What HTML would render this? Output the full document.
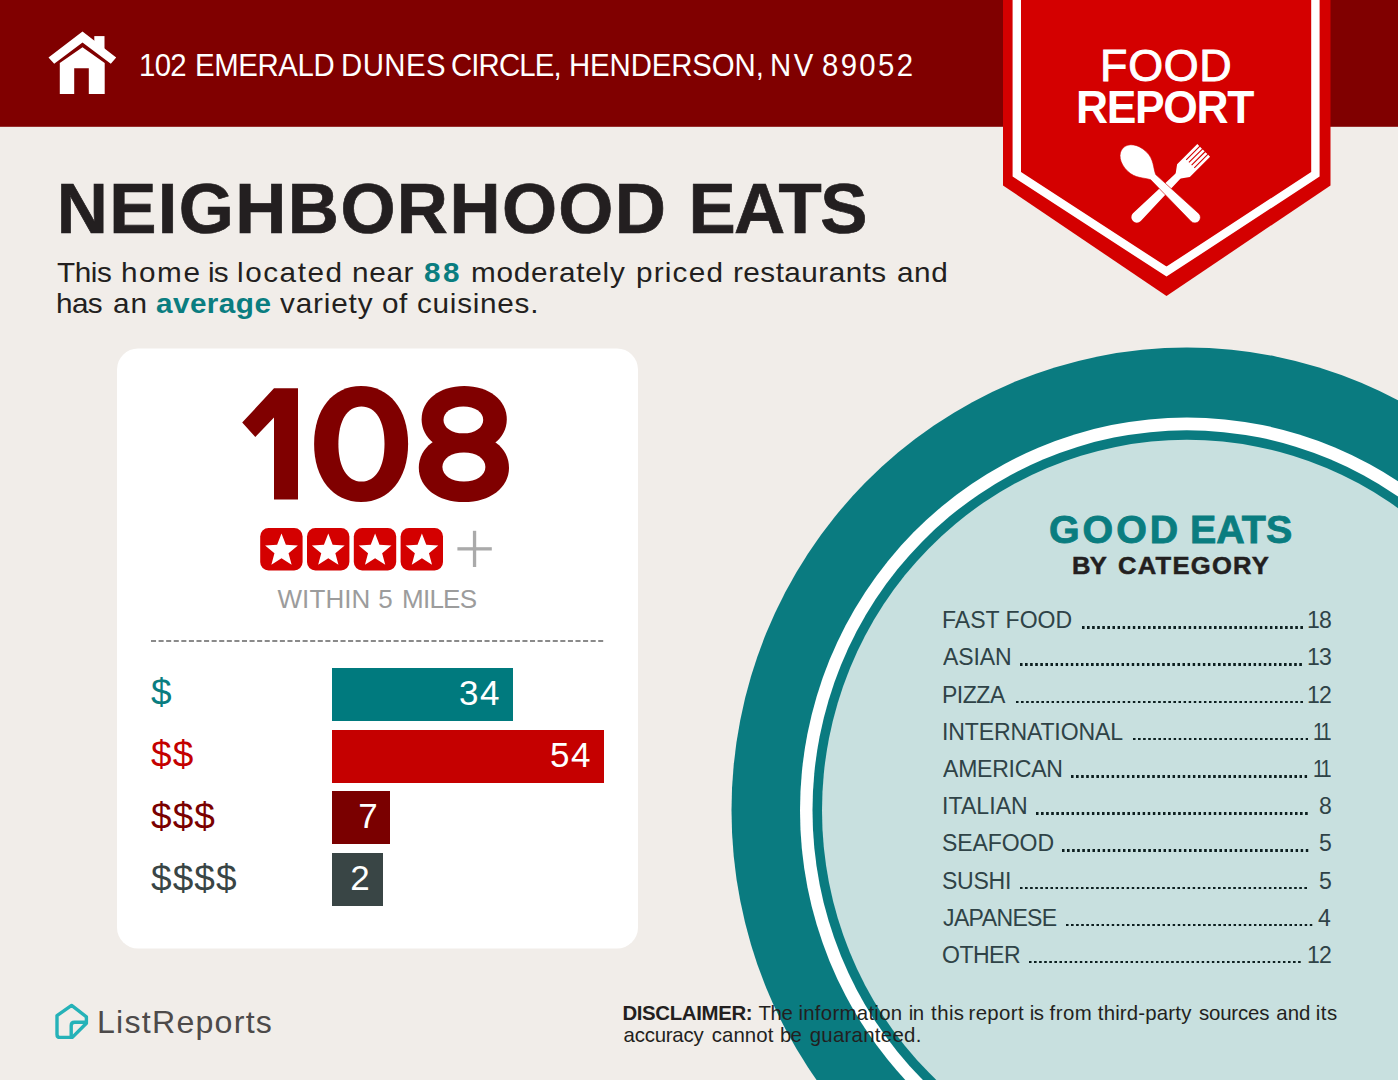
<!DOCTYPE html>
<html>
<head>
<meta charset="utf-8">
<title>Food Report</title>
<style>
html,body{margin:0;padding:0;}
body{width:1398px;height:1080px;position:relative;overflow:hidden;background:#f1ede9;font-family:"Liberation Sans",sans-serif;color:#231f20;}
.abs{position:absolute;white-space:nowrap;line-height:1;transform-origin:0 0;}
#shapes{position:absolute;left:0;top:0;}
.hl{color:#0a7d80;font-weight:bold;}
.b{font-weight:bold;}
.words span{position:absolute;top:0;transform-origin:0 0;white-space:nowrap;}
#big{left:117px;width:521px;top:376px;font-size:150px;font-weight:bold;color:transparent;text-align:center;}
.dol{left:151px;font-size:37px;letter-spacing:1.1px;}
.bar{position:absolute;left:332px;height:53px;color:#fff;font-size:35px;line-height:49px;text-align:right;box-sizing:border-box;padding-right:11.5px;letter-spacing:1.5px;}
.row{position:absolute;left:0;width:1398px;height:24px;font-size:23.5px;line-height:1;color:#2f4347;white-space:nowrap;}
.row .lab,.row .num{position:absolute;top:0;transform-origin:0 0;transform:scaleX(0.98);}
.row .dots{position:absolute;height:2.6px;background-image:linear-gradient(to right,#0c1e1f 0,#0c1e1f 2.6px,transparent 2.6px,transparent 5.09px);background-size:5.09px 2.6px;background-repeat:repeat-x;}
#food{left:1099.6px;top:43.9px;font-size:44px;color:#fff;letter-spacing:0.7px;transform:scaleX(1.02);-webkit-text-stroke:0.9px #fff;}
/*W*/
#addr{left:0;top:49.56px;font-size:30.6px;color:#fff;}
#addr span{transform:scaleX(0.96);}
#title{left:0;top:173.6px;font-size:70.8px;font-weight:bold;color:#231f20;-webkit-text-stroke:0.7px #231f20;}
#title span{transform:scaleX(1.0);}
#sub1{left:0;top:257.9px;font-size:28.3px;color:#231f20;}
#sub1 span{transform:scaleX(1.05);}
#sub2{left:0;top:289.0px;font-size:28.3px;color:#231f20;}
#sub2 span{transform:scaleX(1.05);}
#disc1{left:0;top:1003.4px;font-size:20.4px;color:#231f20;}
#disc1 span{transform:scaleX(1.0);}
#disc2{left:0;top:1025.2px;font-size:20.4px;color:#231f20;}
#disc2 span{transform:scaleX(1.0);}
#within{left:0;top:585.6px;font-size:26px;color:#9c9c9c;}
#within span{transform:scaleX(1.0);}
#ge{left:0;top:511.9px;font-size:37.9px;font-weight:bold;color:#0a7d80;-webkit-text-stroke:0.8px #0a7d80;}
#ge span{transform:scaleX(1.04);}
#bc{left:0;top:553.6px;font-size:24.6px;font-weight:bold;color:#231f20;-webkit-text-stroke:0.5px #231f20;}
#bc span{transform:scaleX(1.04);}
#report{left:0;top:84.8px;font-size:45.8px;font-weight:bold;color:#fff;}
#report span{transform:scaleX(0.97);}
#lr{left:0;top:1006.5px;font-size:31.2px;color:#4d4a4a;}
#lr span{transform:scaleX(1.03);}
/*EW*/
</style>
</head>
<body>
<svg id="shapes" width="1398" height="1080" viewBox="0 0 1398 1080">
  <!-- header -->
  <rect x="0" y="0" width="1398" height="126.8" fill="#800000"/>
  <!-- circle -->
  <ellipse cx="1186.9" cy="810.5" rx="455.4" ry="463" fill="#0a7b80"/>
  <ellipse cx="1186.9" cy="810.5" rx="386.9" ry="393.0" fill="#ffffff"/>
  <ellipse cx="1186.9" cy="810.5" rx="374.4" ry="380.2" fill="#0a7b80"/>
  <ellipse cx="1186.9" cy="810.5" rx="364.9" ry="370.7" fill="#c8e0df"/>
  <!-- banner -->
  <polygon points="1003,0 1003,185.4 1166.5,296 1330.5,185.4 1330.5,0" fill="#d40000"/>
  <polyline points="1016.8,-5 1016.8,174.2 1166.5,271.6 1315.4,174.2 1315.4,-5" fill="none" stroke="#ffffff" stroke-width="8.4"/>
  <!-- house icon -->
  <g fill="#ffffff">
    <polygon points="82.5,31.6 48.5,57.6 54.2,63.8 82.5,42.4 110.8,63.8 116.2,57.6"/>
    <rect x="94.3" y="36.1" width="10.2" height="13"/>
    <path d="M82.5,47.2 L59.8,62.9 L59.8,94 L74.2,94 L74.2,68.2 L88.8,68.2 L88.8,94 L104.7,94 L104.7,62.9 Z"/>
  </g>
  <!-- card -->
  <rect x="117" y="348.5" width="521" height="600" rx="21" ry="21" fill="#ffffff"/>
  <!-- 108 -->
  <g id="n108">
    <polygon fill="#800000" points="274,388.2 298,388.2 298,499.4 274,499.4 274,417.6 255.3,437 242.2,422.6"/>
    <path fill="#800000" d="M 314.10,444.05 C 314.10,409.28 332.90,386.10 361.10,386.10 C 389.30,386.10 408.10,409.28 408.10,444.05 C 408.10,478.82 389.30,502.00 361.10,502.00 C 332.90,502.00 314.10,478.82 314.10,444.05 Z"/>
    <path fill="#ffffff" d="M 338.40,444.05 C 338.40,420.77 347.16,406.50 361.45,406.50 C 375.74,406.50 384.50,420.77 384.50,444.05 C 384.50,467.33 375.74,481.60 361.45,481.60 C 347.16,481.60 338.40,467.33 338.40,444.05 Z"/>
    <path fill="#800000" d="M 421.60,419.35 C 421.60,400.06 439.49,386.10 464.20,386.10 C 488.91,386.10 506.80,400.06 506.80,419.35 C 506.80,438.64 488.91,452.60 464.20,452.60 C 439.49,452.60 421.60,438.64 421.60,419.35 Z"/>
    <path fill="#800000" d="M 418.80,467.65 C 418.80,447.73 437.74,433.30 463.90,433.30 C 490.06,433.30 509.00,447.73 509.00,467.65 C 509.00,487.57 490.06,502.00 463.90,502.00 C 437.74,502.00 418.80,487.57 418.80,467.65 Z"/>
    <path fill="#ffffff" d="M 443.50,419.90 C 443.50,412.13 451.84,406.50 463.35,406.50 C 474.86,406.50 483.20,412.13 483.20,419.90 C 483.20,427.67 474.86,433.30 463.35,433.30 C 451.84,433.30 443.50,427.67 443.50,419.90 Z"/>
    <path fill="#ffffff" d="M 442.40,467.10 C 442.40,458.69 451.43,452.60 463.90,452.60 C 476.37,452.60 485.40,458.69 485.40,467.10 C 485.40,475.51 476.37,481.60 463.90,481.60 C 451.43,481.60 442.40,475.51 442.40,467.10 Z"/>
  </g>
  <!-- stars -->
  <g id="stars">
    <rect x="260.2" y="528" width="42.4" height="42.4" rx="8.4" ry="8.4" fill="#d40000"/>
    <polygon points="281.50,533.60 285.86,544.85 297.91,545.52 288.55,553.14 291.64,564.81 281.50,558.27 271.36,564.81 274.45,553.14 265.09,545.52 277.14,544.85" fill="#ffffff"/>
    <rect x="307.0" y="528" width="42.4" height="42.4" rx="8.4" ry="8.4" fill="#d40000"/>
    <polygon points="328.30,533.60 332.66,544.85 344.71,545.52 335.35,553.14 338.44,564.81 328.30,558.27 318.16,564.81 321.25,553.14 311.89,545.52 323.94,544.85" fill="#ffffff"/>
    <rect x="353.8" y="528" width="42.4" height="42.4" rx="8.4" ry="8.4" fill="#d40000"/>
    <polygon points="375.10,533.60 379.46,544.85 391.51,545.52 382.15,553.14 385.24,564.81 375.10,558.27 364.96,564.81 368.05,553.14 358.69,545.52 370.74,544.85" fill="#ffffff"/>
    <rect x="400.6" y="528" width="42.4" height="42.4" rx="8.4" ry="8.4" fill="#d40000"/>
    <polygon points="421.90,533.60 426.26,544.85 438.31,545.52 428.95,553.14 432.04,564.81 421.90,558.27 411.76,564.81 414.85,553.14 405.49,545.52 417.54,544.85" fill="#ffffff"/>
  </g>
  <!-- plus -->
  <rect x="457.4" y="547.2" width="34.4" height="3.3" fill="#aaaaaa"/>
  <rect x="472.9" y="530.8" width="3.3" height="36.2" fill="#aaaaaa"/>
  <!-- dashed line -->
  <line x1="151" y1="640.9" x2="603.2" y2="640.9" stroke="#8a8a8a" stroke-width="2" stroke-dasharray="5.05 2.53"/>
  <!-- spoon + fork -->
  <g id="fork" fill="#ffffff"><path transform="translate(1203.7,150.4) rotate(45)" d="M -9,0 L -6.280,0 L -6.280,19 L -5.180,19 L -5.180,0 L -2.460,0 L -2.460,19 L -1.360,19 L -1.360,0 L 1.360,0 L 1.360,19 L 2.460,19 L 2.460,0 L 5.180,0 L 5.180,19 L 6.280,19 L 6.280,0 L 9.000,0 L 9,28.6 L 3.6,36 L 3.6,38 L 5.5,94.5 A 5.5 5.5 0 0 1 -5.5,94.5 L -3.6,38 L -3.6,36 L -9,28.6 Z"/></g>
  <g id="spoon" fill="#ffffff"><path transform="translate(1123,148) rotate(-46)" d="M 0,0 C 7.5,0 13.5,8 13.5,19.5 C 13.5,30 7,35 3.6,42 L 5.5,100.0 A 5.5 5.5 0 0 1 -5.5,100.0 L -3.6,42 C -7,35 -13.5,30 -13.5,19.5 C -13.5,8 -7.5,0 0,0 Z" stroke="#d40000" stroke-width="0.6"/></g>
  <!-- ListReports logo -->
  <g fill="none" stroke="#25b2b8" stroke-width="3.4" stroke-linejoin="round" stroke-linecap="round">
    <path d="M71.6,1005.4 L57,1015.6 L57,1034.4 Q57,1037.4 60,1037.4 L72.3,1037.4 L86.4,1023.2 L86.4,1016.8 Z"/>
    <path d="M85,1022.3 L74.5,1022.3 Q71.2,1022.3 71.2,1025.6 L71.2,1036.5"/>
  </g>
</svg>

<div class="abs words" id="addr"><span style="left:138.50px;letter-spacing:-0.729px">102</span> <span style="left:194.50px;letter-spacing:-0.417px">EMERALD</span> <span style="left:341.10px;letter-spacing:0.469px">DUNES</span> <span style="left:451.25px;letter-spacing:-0.918px">CIRCLE,</span> <span style="left:568.55px;letter-spacing:-0.116px">HENDERSON,</span> <span style="left:770.40px;letter-spacing:2.601px">NV</span> <span style="left:821.90px;letter-spacing:2.448px">89052</span></div>
<div class="abs words" id="title"><span style="left:56.65px;letter-spacing:1.400px">NEIGHBORHOOD</span> <span style="left:688.40px;letter-spacing:-1.533px">EATS</span></div>
<div class="abs words" id="sub1"><span style="left:56.70px;letter-spacing:-0.444px">This</span> <span style="left:120.85px;letter-spacing:1.460px">home</span> <span style="left:207.95px;letter-spacing:-0.849px">is</span> <span style="left:237.10px;letter-spacing:1.460px">located</span> <span style="left:351.85px;letter-spacing:0.635px">near</span> <span class="hl" style="left:424.45px;letter-spacing:2.406px">88</span> <span style="left:470.70px;letter-spacing:0.720px">moderately</span> <span style="left:635.85px;letter-spacing:1.143px">priced</span> <span style="left:732.70px;letter-spacing:0.438px">restaurants</span> <span style="left:896.55px;letter-spacing:0.571px">and</span></div>
<div class="abs words" id="sub2"><span style="left:56.00px;letter-spacing:-0.571px">has</span> <span style="left:112.90px;letter-spacing:0.952px">an</span> <span class="hl" style="left:155.55px;letter-spacing:0.413px">average</span> <span style="left:280.05px;letter-spacing:0.794px">variety</span> <span style="left:382.00px;letter-spacing:0.381px">of</span> <span style="left:416.70px;letter-spacing:0.690px">cuisines.</span></div>

<div class="abs" id="big">108</div>
<div class="abs words" id="within"><span style="left:277.50px;letter-spacing:0.080px">WITHIN</span> <span style="left:378.35px;letter-spacing:0.000px">5</span> <span style="left:402.10px;letter-spacing:-0.780px">MILES</span></div>

<div class="abs dol" id="d1" style="top:674px;color:#0a7d80;">$</div>
<div class="abs dol" id="d2" style="top:736px;color:#c40000;">$$</div>
<div class="abs dol" id="d3" style="top:798px;color:#7a0000;">$$$</div>
<div class="abs dol" id="d4" style="top:860px;color:#394545;">$$$$</div>

<div class="bar" style="top:667.6px;width:180.5px;background:#007a7e;" id="b1">34</div>
<div class="bar" style="top:729.5px;width:271.5px;background:#c50000;" id="b2">54</div>
<div class="bar" style="top:791.4px;width:57.6px;background:#7a0000;padding-right:10.3px;" id="b3">7</div>
<div class="bar" style="top:853.2px;width:50.7px;background:#394545;" id="b4">2</div>

<div class="abs" id="food">FOOD</div>
<div class="abs words" id="report"><span style="left:1076.30px;letter-spacing:-1.374px">REPORT</span></div>

<div class="abs words" id="ge"><span style="left:1048.65px;letter-spacing:2.821px">GOOD</span> <span style="left:1190.00px;letter-spacing:0.000px">EATS</span></div>
<div class="abs words" id="bc"><span style="left:1071.80px;letter-spacing:-0.738px">BY</span> <span style="left:1118.00px;letter-spacing:1.209px">CATEGORY</span></div>

<div class="row" style="top:609.24px;"><span class="lab" style="left:942.00px;letter-spacing:0.000px">FAST FOOD</span><span class="dots" style="left:1081.8px;top:16.96px;width:221.47px;"></span><span class="num" style="left:1307.00px;letter-spacing:-0.705px">18</span></div>
<div class="row" style="top:646.43px;"><span class="lab" style="left:942.65px;letter-spacing:-0.102px">ASIAN</span><span class="dots" style="left:1020.1px;top:16.96px;width:282.55px;"></span><span class="num" style="left:1307.00px;letter-spacing:-0.705px">13</span></div>
<div class="row" style="top:683.62px;"><span class="lab" style="left:942.00px;letter-spacing:-0.510px">PIZZA</span><span class="dots" style="left:1015.6px;top:16.96px;width:287.64px;"></span><span class="num" style="left:1306.70px;letter-spacing:-0.705px">12</span></div>
<div class="row" style="top:720.81px;"><span class="lab" style="left:942.10px;letter-spacing:-0.136px">INTERNATIONAL</span><span class="dots" style="left:1132.8px;top:16.96px;width:175.66px;"></span><span class="num n11" style="left:1313px;letter-spacing:-2.5px;transform:scaleX(0.85)">11</span></div>
<div class="row" style="top:758.00px;"><span class="lab" style="left:943.10px;letter-spacing:-0.233px">AMERICAN</span><span class="dots" style="left:1071.2px;top:16.96px;width:236.74px;"></span><span class="num n11" style="left:1313px;letter-spacing:-2.5px;transform:scaleX(0.85)">11</span></div>
<div class="row" style="top:795.19px;"><span class="lab" style="left:941.85px;letter-spacing:0.068px">ITALIAN</span><span class="dots" style="left:1036.0px;top:16.96px;width:272.37px;"></span><span class="num" style="left:1319.00px;letter-spacing:0.000px">8</span></div>
<div class="row" style="top:832.38px;"><span class="lab" style="left:941.60px;letter-spacing:-0.102px">SEAFOOD</span><span class="dots" style="left:1061.6px;top:16.96px;width:246.92px;"></span><span class="num" style="left:1319.00px;letter-spacing:0.000px">5</span></div>
<div class="row" style="top:869.57px;"><span class="lab" style="left:942.25px;letter-spacing:-0.255px">SUSHI</span><span class="dots" style="left:1020.1px;top:16.96px;width:287.64px;"></span><span class="num" style="left:1319.00px;letter-spacing:0.000px">5</span></div>
<div class="row" style="top:906.76px;"><span class="lab" style="left:942.90px;letter-spacing:-0.641px">JAPANESE</span><span class="dots" style="left:1066.1px;top:16.96px;width:246.92px;"></span><span class="num" style="left:1318.00px;letter-spacing:0.000px">4</span></div>
<div class="row" style="top:943.95px;"><span class="lab" style="left:941.75px;letter-spacing:-0.510px">OTHER</span><span class="dots" style="left:1028.5px;top:16.96px;width:272.37px;"></span><span class="num" style="left:1306.70px;letter-spacing:-0.705px">12</span></div>

<div class="abs words" id="lr"><span style="left:97.35px;letter-spacing:1.204px">ListReports</span></div>
<div class="abs words" id="disc1"><span class="b" style="left:622.40px;letter-spacing:-0.340px">DISCLAIMER:</span> <span style="left:758.50px;letter-spacing:-0.400px">The</span> <span style="left:798.45px;letter-spacing:0.280px">information</span> <span style="left:908.75px;letter-spacing:-0.612px">in</span> <span style="left:931.10px;letter-spacing:0.400px">this</span> <span style="left:968.50px;letter-spacing:0.360px">report</span> <span style="left:1029.80px;letter-spacing:-0.612px">is</span> <span style="left:1049.45px;letter-spacing:0.533px">from</span> <span style="left:1097.80px;letter-spacing:0.180px">third-party</span> <span style="left:1198.90px;letter-spacing:-0.133px">sources</span> <span style="left:1276.35px;letter-spacing:0.000px">and</span> <span style="left:1315.65px;letter-spacing:0.600px">its</span></div>
<div class="abs words" id="disc2"><span style="left:623.60px;letter-spacing:-0.229px">accuracy</span> <span style="left:711.70px;letter-spacing:0.080px">cannot</span> <span style="left:779.90px;letter-spacing:-0.612px">be</span> <span style="left:809.70px;letter-spacing:0.280px">guaranteed.</span></div>

</body>
</html>
